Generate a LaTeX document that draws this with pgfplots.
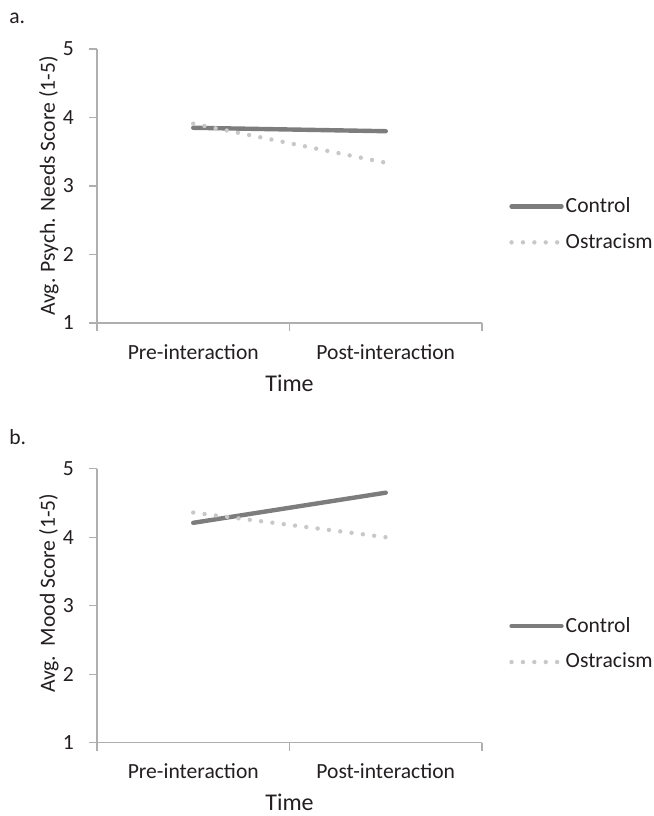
\documentclass[border=0pt]{standalone}
\usepackage{pgfplots}
\pgfplotsset{compat=1.18}
\usepackage{fontspec}
\setmainfont{Carlito}

\definecolor{ctrl}{RGB}{125,125,125}
\definecolor{ostr}{RGB}{200,200,200}
\definecolor{axgray}{RGB}{175,175,175}
\definecolor{txt}{RGB}{35,31,32}

\pgfplotsset{
  panel/.style={
    scale only axis, width=192.5pt, height=137pt,
    xmin=0, xmax=2, ymin=1, ymax=5,
    axis x line=bottom, axis y line=left,
    axis line style={draw=axgray, line width=0.6pt, -},
    tick style={draw=axgray, line width=0.6pt},
    tick align=outside, major tick length=4pt,
    ytick={1,2,3,4,5},
    xtick={0,1,2}, xticklabels={},
    extra x ticks={0.5,1.5},
    extra x tick labels={Pre-interaction,Post-interaction},
    extra x tick style={tick style={draw=none}},
    /pgf/number format/assume math mode=true,
    ticklabel style={font=\fontsize{10.8}{12}\selectfont, text=txt},
    yticklabel style={xshift=-4pt},
    xticklabel style={yshift=-3pt},
    xlabel={Time},
    xlabel style={at={(axis description cs:0.5,0)}, anchor=center, yshift=-30pt,
      font=\fontsize{12}{14}\selectfont, text=txt},
    every axis y label/.append style={anchor=center, font=\fontsize{10.8}{12}\selectfont, text=txt},
    legend style={draw=none, fill=none, anchor=west, at={(axis description cs:1.07,0.36)},
      font=\fontsize{10.8}{12}\selectfont, text=txt, inner sep=0pt,
      row sep=7pt, nodes={inner sep=1pt}},
    legend cell align=left,
    legend image code/.code={\draw[##1] (0pt,0pt) -- (25pt,0pt);},
  },
  ctrlline/.style={color=ctrl, line width=2.2pt, line cap=round, no marks},
  ostrline/.style={color=ostr, line width=2.2pt, line cap=round, no marks,
    dash pattern=on 0pt off 5.7pt},
}

\begin{document}
\begin{tikzpicture}
  \useasboundingbox (-48.5pt,-246.5pt) rectangle (278.5pt,161.5pt);

  \begin{axis}[panel, name=a, at={(0pt,0pt)}, anchor=south west,
      ylabel={Avg. Psych. Needs Score (1-5)},
      ylabel style={at={(axis description cs:-0.125,0.5)}}]
    \addplot[ctrlline] coordinates {(0.5,3.85) (1.5,3.80)};
    \addplot[ostrline] coordinates {(0.5,3.91) (1.5,3.34)};
    \legend{Control,Ostracism}
  \end{axis}
  \node[anchor=west, font=\fontsize{10.8}{12}\selectfont, text=txt, inner sep=0pt]
    at ([shift={(-44pt,152.5pt)}]a.south west) {a.};

  \begin{axis}[panel, name=b, at={(0pt,-209.85pt)}, anchor=south west,
      ylabel={Avg.\ \ Mood Score (1-5)},
      ylabel style={at={(axis description cs:-0.125,0.545)}}]
    \addplot[ctrlline] coordinates {(0.5,4.21) (1.5,4.65)};
    \addplot[ostrline] coordinates {(0.5,4.36) (1.5,4.00)};
    \legend{Control,Ostracism}
  \end{axis}
  \node[anchor=west, font=\fontsize{10.8}{12}\selectfont, text=txt, inner sep=0pt]
    at ([shift={(-44pt,153pt)}]b.south west) {b.};
\end{tikzpicture}
\end{document}
